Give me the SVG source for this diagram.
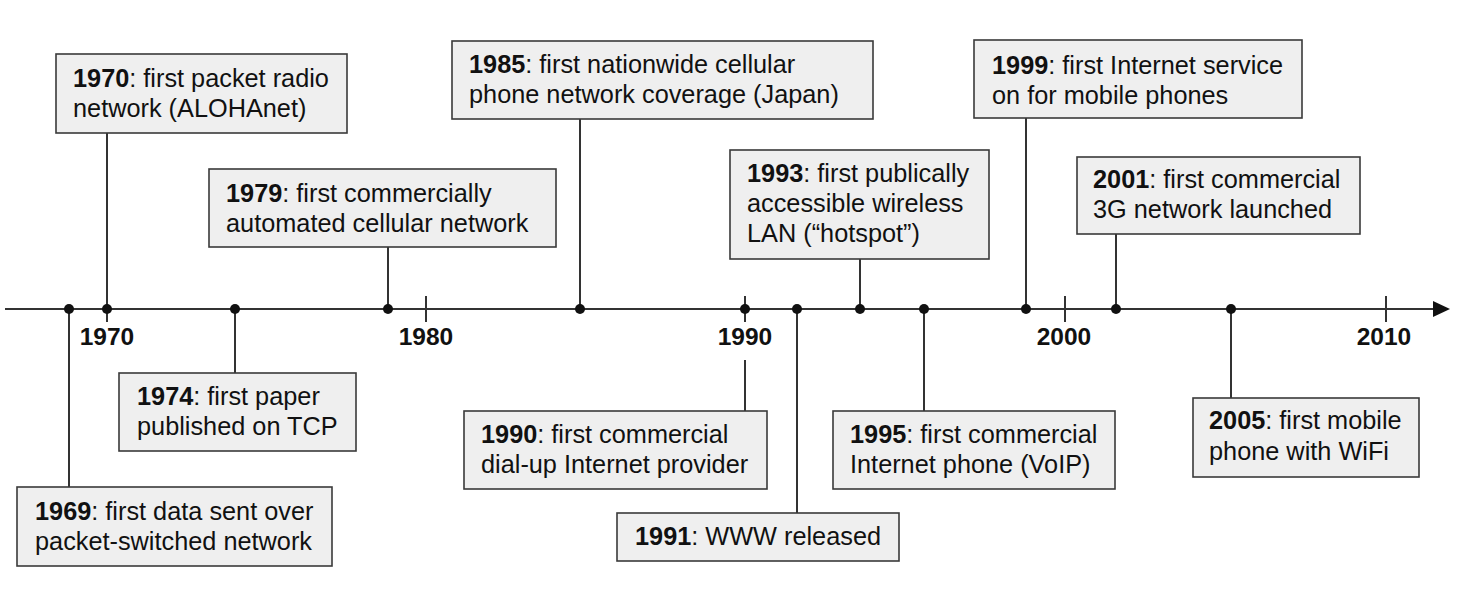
<svg xmlns="http://www.w3.org/2000/svg" width="1466" height="596" viewBox="0 0 1466 596">
<style>
.box{fill:#efefef;stroke:#3a3a3a;stroke-width:1.6}
.t{font-family:"Liberation Sans",Arial,sans-serif;font-size:25.3px;fill:#111}
.b{font-weight:bold}
.ax{font-family:"Liberation Sans",Arial,sans-serif;font-size:24.5px;font-weight:bold;fill:#111;text-anchor:middle}
.ln{stroke:#333;stroke-width:2;fill:none}
.dot{fill:#111}
</style>
<rect width="1466" height="596" fill="#fff"/>
<g id="connectors">
<line class="ln" x1="5" y1="309" x2="1436" y2="309"/>
<polygon points="1433,301 1450,309 1433,317" fill="#111"/>
<line class="ln" x1="107" y1="296" x2="107" y2="322"/>
<line class="ln" x1="426" y1="296" x2="426" y2="322"/>
<line class="ln" x1="745" y1="296" x2="745" y2="322"/>
<line class="ln" x1="1065" y1="296" x2="1065" y2="322"/>
<line class="ln" x1="1386" y1="296" x2="1386" y2="322"/>
<line class="ln" x1="69" y1="309" x2="69" y2="487"/>
<line class="ln" x1="107" y1="133" x2="107" y2="309"/>
<line class="ln" x1="235" y1="309" x2="235" y2="373"/>
<line class="ln" x1="388" y1="247" x2="388" y2="309"/>
<line class="ln" x1="580" y1="119" x2="580" y2="309"/>
<line class="ln" x1="745" y1="360" x2="745" y2="411"/>
<line class="ln" x1="797" y1="309" x2="797" y2="513"/>
<line class="ln" x1="860" y1="259" x2="860" y2="309"/>
<line class="ln" x1="924" y1="309" x2="924" y2="411"/>
<line class="ln" x1="1026" y1="118" x2="1026" y2="309"/>
<line class="ln" x1="1116" y1="234" x2="1116" y2="309"/>
<line class="ln" x1="1231" y1="309" x2="1231" y2="398"/>
<circle class="dot" cx="69" cy="309" r="5"/>
<circle class="dot" cx="107" cy="309" r="5"/>
<circle class="dot" cx="235" cy="309" r="5"/>
<circle class="dot" cx="388" cy="309" r="5"/>
<circle class="dot" cx="580" cy="309" r="5"/>
<circle class="dot" cx="745" cy="309" r="5"/>
<circle class="dot" cx="797" cy="309" r="5"/>
<circle class="dot" cx="860" cy="309" r="5"/>
<circle class="dot" cx="924" cy="309" r="5"/>
<circle class="dot" cx="1026" cy="309" r="5"/>
<circle class="dot" cx="1116" cy="309" r="5"/>
<circle class="dot" cx="1231" cy="309" r="5"/>
</g>
<g id="axis-labels">
<text class="ax" x="107" y="345">1970</text>
<text class="ax" x="426" y="345">1980</text>
<text class="ax" x="745" y="345">1990</text>
<text class="ax" x="1064" y="345">2000</text>
<text class="ax" x="1384" y="345">2010</text>
</g>
<g id="n1969">
<rect class="box" x="17" y="487" width="315" height="79"/>
<text class="t" x="35" y="520"><tspan class="b">1969</tspan>: first data sent over</text>
<text class="t" x="35" y="550">packet-switched network</text>
</g>
<g id="n1970">
<rect class="box" x="56" y="54" width="291" height="79"/>
<text class="t" x="73" y="87"><tspan class="b">1970</tspan>: first packet radio</text>
<text class="t" x="73" y="117">network (ALOHAnet)</text>
</g>
<g id="n1974">
<rect class="box" x="119" y="373" width="237" height="78"/>
<text class="t" x="137" y="405"><tspan class="b">1974</tspan>: first paper</text>
<text class="t" x="137" y="435">published on TCP</text>
</g>
<g id="n1979">
<rect class="box" x="209" y="169" width="347" height="78"/>
<text class="t" x="226" y="202"><tspan class="b">1979</tspan>: first commercially</text>
<text class="t" x="226" y="232">automated cellular network</text>
</g>
<g id="n1985">
<rect class="box" x="452" y="41" width="421" height="78"/>
<text class="t" x="469" y="73"><tspan class="b">1985</tspan>: first nationwide cellular</text>
<text class="t" x="469" y="103">phone network coverage (Japan)</text>
</g>
<g id="n1990">
<rect class="box" x="464" y="411" width="303" height="78"/>
<text class="t" x="481" y="443"><tspan class="b">1990</tspan>: first commercial</text>
<text class="t" x="481" y="473">dial-up Internet provider</text>
</g>
<g id="n1991">
<rect class="box" x="617" y="513" width="282" height="48"/>
<text class="t" x="635" y="545"><tspan class="b">1991</tspan>: WWW released</text>
</g>
<g id="n1993">
<rect class="box" x="730" y="150" width="259" height="109"/>
<text class="t" x="747" y="182"><tspan class="b">1993</tspan>: first publically</text>
<text class="t" x="747" y="212">accessible wireless</text>
<text class="t" x="747" y="242">LAN (“hotspot”)</text>
</g>
<g id="n1995">
<rect class="box" x="833" y="411" width="282" height="78"/>
<text class="t" x="850" y="443"><tspan class="b">1995</tspan>: first commercial</text>
<text class="t" x="850" y="473">Internet phone (VoIP)</text>
</g>
<g id="n1999">
<rect class="box" x="974" y="40" width="328" height="78"/>
<text class="t" x="992" y="74"><tspan class="b">1999</tspan>: first Internet service</text>
<text class="t" x="992" y="104">on for mobile phones</text>
</g>
<g id="n2001">
<rect class="box" x="1077" y="157" width="283" height="77"/>
<text class="t" x="1093" y="188"><tspan class="b">2001</tspan>: first commercial</text>
<text class="t" x="1093" y="218">3G network launched</text>
</g>
<g id="n2005">
<rect class="box" x="1193" y="398" width="226" height="79"/>
<text class="t" x="1209" y="429"><tspan class="b">2005</tspan>: first mobile</text>
<text class="t" x="1209" y="460">phone with WiFi</text>
</g>
</svg>
